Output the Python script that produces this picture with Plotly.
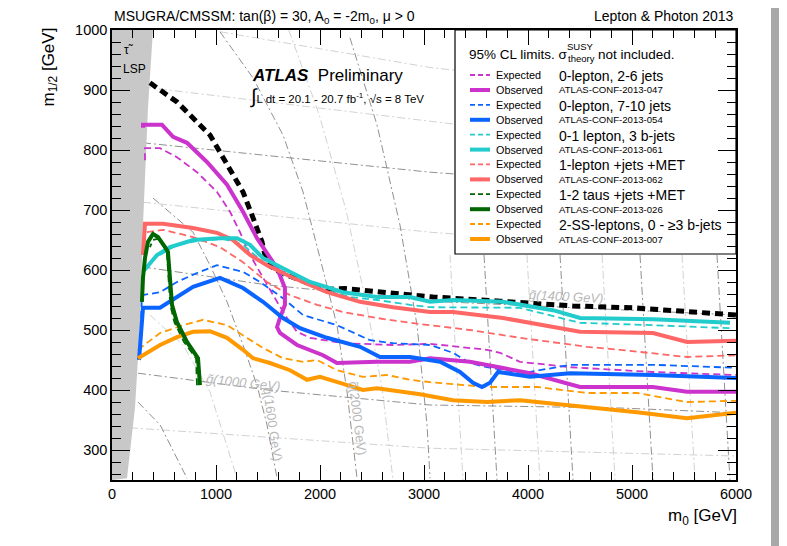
import plotly.graph_objects as go

FONT = "Liberation Sans"

# stau LSP excluded region
lsp_m0 = [0, 394, 346, 298, 269, 221, 144, 0]
lsp_m12 = [1000, 1000, 870, 675, 508, 370, 253, 250]

# black reference curve
ref_m0 = [365, 625, 942, 1106, 1260, 1356, 1442, 1490, 1615, 1933, 2100, 2240, 3087, 3730, 4433, 5010, 5490, 6000]
ref_m12 = [912, 880, 825, 775, 730, 687, 647, 610, 596, 575, 568, 569, 555, 548, 540, 537, 532, 525]

# 0-lepton, 2-6 jets
mag_obs_m0 = [298, 298, 481, 587, 721, 913, 1106, 1260, 1394, 1587, 1663, 1663, 1615, 1587, 1615, 1779, 2029, 2163, 2548, 2865, 3058, 3442, 4019, 4500, 5202, 5529, 6000]
mag_obs_m12 = [837, 842, 842, 822, 812, 780, 742, 697, 653, 603, 570, 542, 520, 505, 495, 475, 458, 445, 447, 447, 453, 447, 428, 405, 405, 397, 397]
mag_exp_m0 = [317, 317, 462, 625, 817, 1010, 1135, 1231, 1327, 1452, 1587, 1683, 1779, 1904, 2221, 2702, 3058, 3606, 3731, 3923, 4404, 5202, 6000]
mag_exp_m12 = [783, 803, 803, 788, 763, 730, 697, 663, 625, 587, 547, 520, 497, 487, 478, 475, 477, 467, 462, 447, 438, 430, 425]

# 0-lepton, 7-10 jets
blue_obs_m0 = [260, 298, 462, 625, 779, 1038, 1260, 1452, 1644, 1808, 2067, 2385, 2577, 2865, 3154, 3346, 3471, 3558, 3635, 3712, 4019, 4404, 5202, 6000]
blue_obs_m12 = [450, 537, 537, 555, 572, 587, 570, 547, 520, 503, 487, 472, 455, 455, 447, 430, 412, 405, 412, 430, 422, 428, 425, 420]
blue_exp_m0 = [280, 288, 462, 625, 817, 1010, 1260, 1423, 1644, 1837, 2163, 2481, 2702, 3058, 3279, 3442, 3606, 3952, 4404, 5202, 6000]
blue_exp_m12 = [520, 558, 563, 580, 595, 608, 597, 580, 553, 525, 508, 483, 478, 475, 462, 445, 438, 428, 442, 442, 437]

# 0-1 lepton, 3 b-jets
cyan_obs_m0 = [298, 433, 558, 779, 1038, 1202, 1327, 1452, 1644, 1904, 2221, 2548, 2865, 3058, 3279, 3760, 4240, 4500, 5202, 5942]
cyan_obs_m12 = [597, 625, 638, 650, 653, 653, 642, 620, 603, 580, 563, 555, 555, 547, 550, 547, 533, 520, 518, 512]
cyan_exp_m0 = [462, 625, 817, 1067, 1260, 1452, 1644, 1971, 2288, 2548, 2865, 3058, 3923, 4500, 5202, 5942]
cyan_exp_m12 = [625, 642, 648, 652, 642, 613, 592, 570, 555, 550, 542, 538, 537, 512, 508, 503]

# 1-lepton + jets + MET
sal_obs_m0 = [298, 317, 490, 779, 1010, 1163, 1327, 1490, 1740, 2067, 2385, 2702, 3058, 3279, 3760, 4240, 4500, 5202, 5529, 6000]
sal_obs_m12 = [625, 677, 677, 670, 662, 650, 625, 608, 587, 563, 547, 538, 530, 530, 520, 505, 497, 495, 480, 482]
sal_exp_m0 = [336, 490, 779, 1038, 1260, 1490, 1712, 1971, 2221, 2548, 2865, 3058, 3442, 3923, 4567, 4885, 5529, 6000]
sal_exp_m12 = [663, 667, 655, 638, 613, 580, 558, 542, 530, 520, 512, 508, 500, 487, 472, 467, 455, 458]

# 1-2 taus + jets + MET
green_obs_m0 = [846, 827, 721, 625, 577, 558, 538, 510, 442, 394, 346, 317, 298, 288]
green_obs_m12 = [408, 453, 480, 513, 542, 592, 630, 638, 655, 660, 647, 620, 587, 547]
green_exp_m0 = [817, 808, 692, 600, 560, 545, 528, 490, 442, 394, 365]
green_exp_m12 = [408, 453, 480, 513, 542, 592, 628, 643, 652, 650, 638]

# 2-SS-leptons, 0 - >=3 b-jets
org_obs_m0 = [250, 462, 625, 779, 942, 1106, 1260, 1356, 1519, 1712, 1875, 2000, 2192, 2413, 2548, 2798, 2962, 3279, 3606, 3923, 4567, 5048, 5529, 6000]
org_obs_m12 = [453, 475, 488, 497, 498, 487, 467, 453, 445, 433, 417, 422, 412, 400, 403, 397, 393, 383, 380, 383, 372, 363, 353, 362]
org_exp_m0 = [250, 462, 683, 875, 1106, 1298, 1452, 1644, 1837, 1971, 2163, 2413, 2644, 2865, 3058, 3606, 4087, 4567, 5048, 5529, 6000]
org_exp_m12 = [467, 495, 508, 517, 508, 487, 470, 453, 447, 450, 433, 422, 425, 417, 413, 405, 405, 395, 395, 380, 382]

# squark / gluino mass contours (m0, m12)
dark_contours = [
    ([250, 1500, 3058, 4885, 6000], [428, 400, 375, 370, 362]),
    ([298, 1500, 3058, 6000], [605, 575, 548, 525]),
    ([298, 3058, 3298], [812, 763, 760]),
    ([250, 462, 721], [380, 342, 253]),
    ([394, 779, 942, 1106, 1260, 1394, 1490, 1587], [720, 663, 608, 547, 475, 408, 342, 253]),
    ([1038, 1356, 1644, 1837, 2000, 2163, 2260, 2356], [997, 920, 825, 730, 620, 508, 397, 253]),
    ([2288, 2548, 2769, 2933, 3029, 3058], [987, 842, 675, 508, 342, 253]),
    ([3577, 3702], [625, 250]),
    ([4308, 4433], [625, 250]),
    ([5077, 5202], [625, 250]),
    ([5817, 5942], [625, 250]),
]
light_contours = [
    ([1040, 3077, 3298], [997, 937, 933]),
    ([298, 3058, 3298], [905, 847, 843]),
    ([298, 3058, 3298], [713, 663, 660]),
    ([173, 3058, 6000], [337, 303, 290]),
    ([365, 683, 942, 1202], [525, 475, 397, 253]),
    ([1700, 1990, 2250, 2450, 2600, 2700], [1000, 860, 700, 540, 400, 253]),
    ([3250, 3375], [625, 250]),
    ([3990, 4115], [625, 250]),
    ([4712, 4837], [625, 250]),
    ([5481, 5606], [625, 250]),
]

analyses = [
    ("0-lepton, 2-6 jets", "ATLAS-CONF-2013-047", "#cc33cc", mag_exp_m0, mag_exp_m12, mag_obs_m0, mag_obs_m12),
    ("0-lepton, 7-10 jets", "ATLAS-CONF-2013-054", "#0a64ff", blue_exp_m0, blue_exp_m12, blue_obs_m0, blue_obs_m12),
    ("0-1 lepton, 3 b-jets", "ATLAS-CONF-2013-061", "#22cccc", cyan_exp_m0, cyan_exp_m12, cyan_obs_m0, cyan_obs_m12),
    ("1-lepton +jets +MET", "ATLAS-CONF-2013-062", "#ff6666", sal_exp_m0, sal_exp_m12, sal_obs_m0, sal_obs_m12),
    ("1-2 taus +jets +MET", "ATLAS-CONF-2013-026", "#006600", green_exp_m0, green_exp_m12, green_obs_m0, green_obs_m12),
    ("2-SS-leptons, 0 - ≥3 b-jets", "ATLAS-CONF-2013-007", "#ff9900", org_exp_m0, org_exp_m12, org_obs_m0, org_obs_m12),
]

# plot area in window pixels: x 112..736, y 30..480 (page body has an 8px margin)
def px(x):
    return (x - 112) / 624.0

def py(y):
    return (480 - y) / 450.0

fig = go.Figure()

for xs, ys in light_contours:
    fig.add_trace(go.Scatter(x=xs, y=ys, mode="lines", line=dict(color="#d2d2d2", width=1, dash="8px,3px,2px,3px"),
                             hoverinfo="skip", showlegend=False))
for xs, ys in dark_contours:
    fig.add_trace(go.Scatter(x=xs, y=ys, mode="lines", line=dict(color="#909090", width=1, dash="8px,3px,2px,3px"),
                             hoverinfo="skip", showlegend=False))

fig.add_trace(go.Scatter(x=lsp_m0, y=lsp_m12, mode="lines", fill="toself", fillcolor="#c8c8c8",
                         line=dict(width=0, color="#c8c8c8"), hoverinfo="skip", showlegend=False))

fig.add_trace(go.Scatter(x=ref_m0, y=ref_m12, mode="lines", line=dict(color="black", width=5, dash="8px,5px"),
                         showlegend=False))

for name, conf, col, ex, ey, ox, oy in analyses:
    fig.add_trace(go.Scatter(x=ex, y=ey, mode="lines", line=dict(color=col, width=1.8, dash="7px,4px"),
                             name=name + " expected", showlegend=False))

draw_order = [0, 1, 3, 2, 5, 4]
for i in draw_order:
    name, conf, col, ex, ey, ox, oy = analyses[i]
    fig.add_trace(go.Scatter(x=ox, y=oy, mode="lines", line=dict(color=col, width=4),
                             name=name + " observed", showlegend=False))

shapes = []
ann = []

# legend box
shapes.append(dict(type="rect", xref="paper", yref="paper", x0=px(455), x1=1, y0=py(254), y1=1,
                   fillcolor="white", line=dict(color="black", width=1.2), layer="below"))
ann += [
    dict(x=px(467), y=py(54), text="95% CL limits. σ", font=dict(size=13.5), xanchor="left", yanchor="middle"),
    dict(x=px(565), y=py(46), text="SUSY", font=dict(size=9.5), xanchor="left", yanchor="middle"),
    dict(x=px(566), y=py(59), text="theory", font=dict(size=9.5), xanchor="left", yanchor="middle"),
    dict(x=px(596), y=py(54), text="not included.", font=dict(size=13.5), xanchor="left", yanchor="middle"),
]
for i, (name, conf, col, ex, ey, ox, oy) in enumerate(analyses):
    ye = 75 + 29.8 * i
    yo = ye + 15
    shapes.append(dict(type="line", xref="paper", yref="paper", x0=px(470), x1=px(490), y0=py(ye), y1=py(ye),
                       line=dict(color=col, width=1.8, dash="5px,3px")))
    shapes.append(dict(type="line", xref="paper", yref="paper", x0=px(470), x1=px(490), y0=py(yo), y1=py(yo),
                       line=dict(color=col, width=4)))
    ann.append(dict(x=px(494), y=py(ye), text="Expected", font=dict(size=10.8), xanchor="left", yanchor="middle"))
    ann.append(dict(x=px(494), y=py(yo), text="Observed", font=dict(size=10.8), xanchor="left", yanchor="middle"))
    ann.append(dict(x=px(557), y=py(ye + 1), text=name, font=dict(size=14), xanchor="left", yanchor="middle"))
    ann.append(dict(x=px(557), y=py(yo), text=conf, font=dict(size=9.6), xanchor="left", yanchor="middle"))

grey_lbl = dict(size=13, color="#b8b8b8")
ann += [
    dict(x=0, y=py(17), text="MSUGRA/CMSSM: tan(β) = 30, A<sub>0</sub> = -2m<sub>0</sub>, μ > 0",
         font=dict(size=14), xanchor="left", yanchor="middle"),
    dict(x=1, y=py(16), text="Lepton & Photon 2013", font=dict(size=14), xanchor="right", yanchor="middle"),
    dict(x=px(250), y=py(75), text="<b><i>ATLAS</i></b>  Preliminary", font=dict(size=17),
         xanchor="left", yanchor="middle"),
    dict(x=px(248), y=py(97), text="<span style='font-size:20px'>∫</span>L dt = 20.1 - 20.7 fb<sup>-1</sup>, √s = 8 TeV",
         font=dict(size=11.5), xanchor="left", yanchor="middle"),
    dict(x=px(122), y=py(50), text="τ̃", font=dict(size=12), xanchor="left", yanchor="middle"),
    dict(x=px(121), y=py(69), text="LSP", font=dict(size=12), xanchor="left", yanchor="middle"),
    dict(x=px(243), y=py(382), text="g̃(1000 GeV)", textangle=6, font=dict(grey_lbl, style="italic"),
         xanchor="center", yanchor="middle"),
    dict(x=px(566), y=py(296), text="g̃(1400 GeV)", textangle=3, font=dict(grey_lbl, style="italic"),
         xanchor="center", yanchor="middle"),
    dict(x=px(273), y=py(424), text="q̃(1600 GeV)", textangle=82, font=grey_lbl,
         xanchor="center", yanchor="middle"),
    dict(x=px(358), y=py(418), text="q̃(2000 GeV)", textangle=83, font=grey_lbl,
         xanchor="center", yanchor="middle"),
    dict(x=px(739), y=py(517), text="m<sub>0</sub> [GeV]", font=dict(size=17), xanchor="right", yanchor="middle"),
    dict(x=px(50), y=py(26), text="m<sub>1/2</sub> [GeV]", textangle=-90, font=dict(size=17),
         xanchor="center", yanchor="top"),
]
for a in ann:
    a.setdefault("xref", "paper")
    a.setdefault("yref", "paper")
    a["showarrow"] = False

# grey edge strip visible at the right of the reference screenshot
shapes.append(dict(type="rect", xref="paper", yref="paper", x0=px(771), x1=px(787), y0=py(560), y1=py(-10),
                   fillcolor="#a8a8a8", line=dict(width=0), layer="above"))

fig.update_layout(
    width=787, height=546,
    margin=dict(l=104, r=59, t=22, b=74),
    paper_bgcolor="white", plot_bgcolor="white",
    font=dict(family=FONT, color="black"),
    shapes=shapes, annotations=ann,
    showlegend=False,
)
fig.update_xaxes(range=[0, 6000], tickvals=[0, 1000, 2000, 3000, 4000, 5000, 6000],
                 ticks="inside", ticklen=15, tickwidth=1.2, tickcolor="black",
                 minor=dict(dtick=200, tick0=0, ticks="inside", ticklen=8, tickcolor="black", tickwidth=1.2),
                 showline=True, linecolor="black", linewidth=1.5, mirror="allticks",
                 showgrid=False, zeroline=False, tickfont=dict(size=14.5))
fig.update_yaxes(range=[250, 1000], tickvals=[300, 400, 500, 600, 700, 800, 900, 1000],
                 ticks="inside", ticklen=18, tickwidth=1.2, tickcolor="black",
                 minor=dict(dtick=20, tick0=0, ticks="inside", ticklen=9, tickcolor="black", tickwidth=1.2),
                 showline=True, linecolor="black", linewidth=1.5, mirror="allticks",
                 showgrid=False, zeroline=False, tickfont=dict(size=14.5))

fig.write_html("out.html")
